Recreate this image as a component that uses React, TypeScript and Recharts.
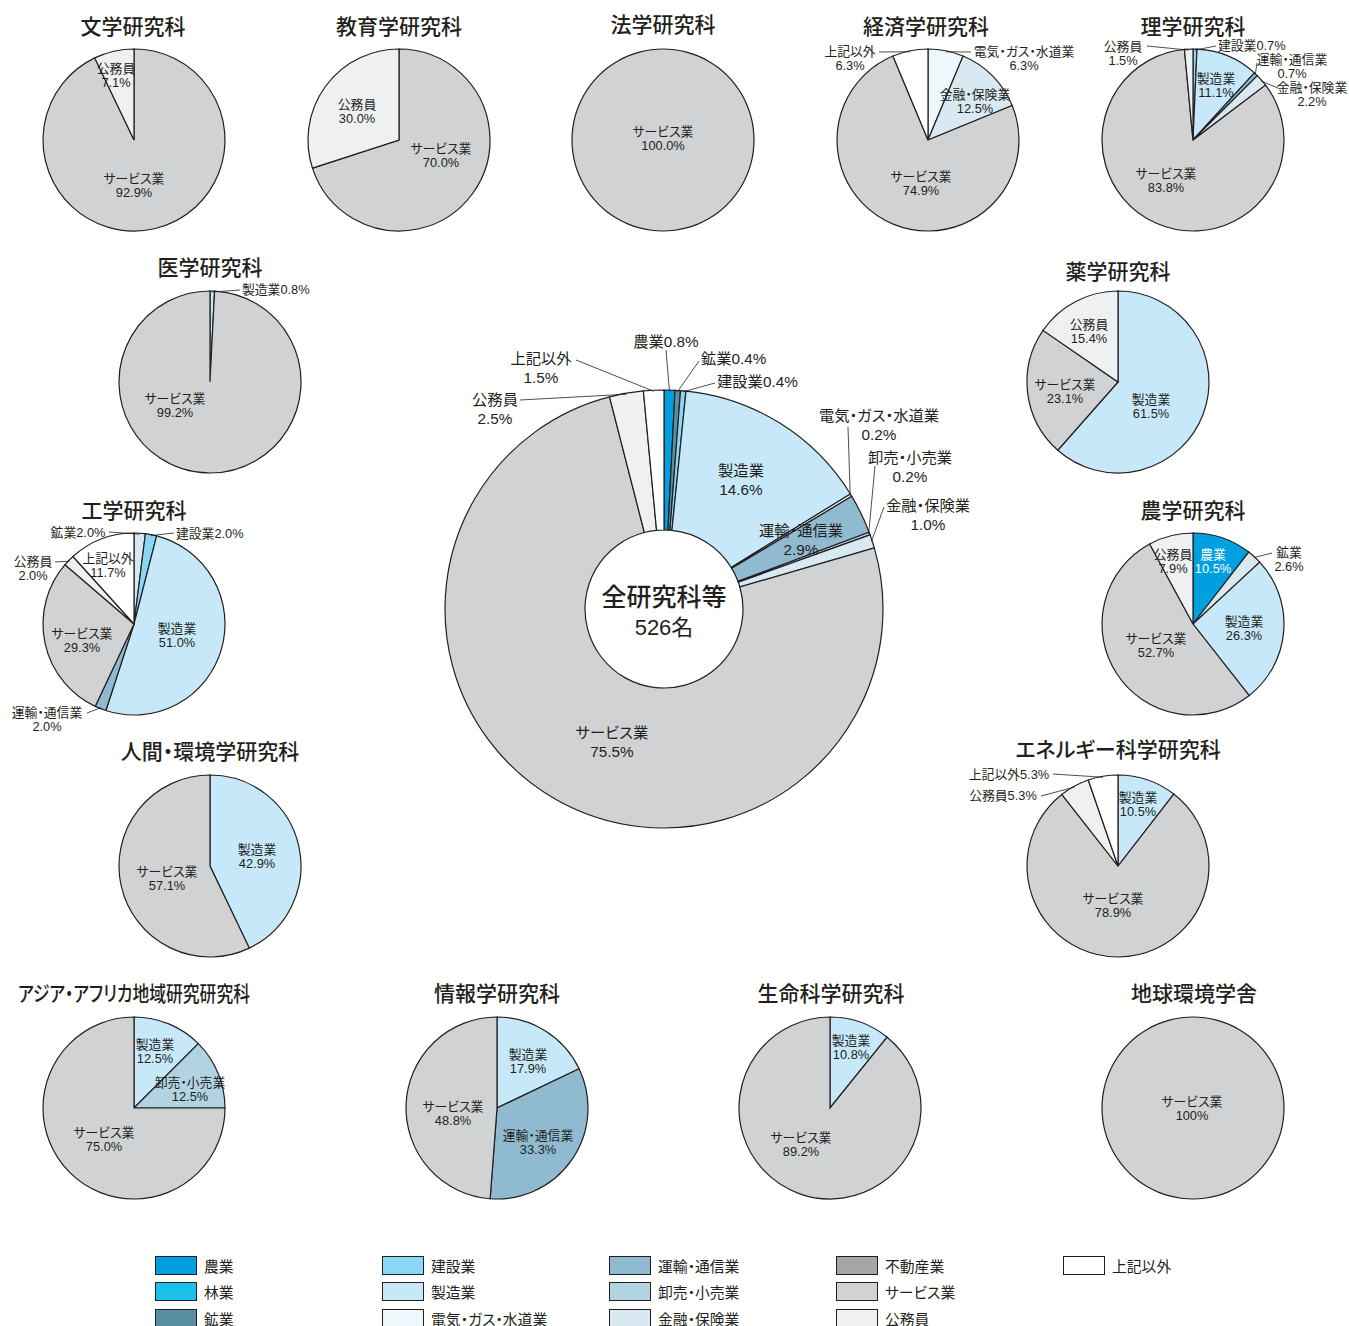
import { PieChart, Pie, Cell } from "recharts";

const categories = [
  "農業", "林業", "鉱業", "建設業", "製造業", "電気・ガス・水道業", "運輸・通信業",
  "卸売・小売業", "金融・保険業", "不動産業", "サービス業", "公務員", "上記以外",
];
const colors = [
  "#00a0e0", "#1cc0ec", "#5a8fa3", "#8ad6f4", "#c6e8f8", "#eef7fc", "#8fbad0",
  "#b2d3e2", "#d9e9f1", "#a6a6a8", "#d1d2d4", "#eff0f2", "#ffffff",
];

// values in category order: 農 林 鉱 建 製 電 運 卸 金 不 サ 公 外
const total = [0.8, 0, 0.4, 0.4, 14.6, 0.2, 2.9, 0.2, 1.0, 0, 75.5, 2.5, 1.5];
const bungaku = [0, 0, 0, 0, 0, 0, 0, 0, 0, 0, 92.9, 7.1, 0];
const kyoiku = [0, 0, 0, 0, 0, 0, 0, 0, 0, 0, 70.0, 30.0, 0];
const hogaku = [0, 0, 0, 0, 0, 0, 0, 0, 0, 0, 100, 0, 0];
const keizai = [0, 0, 0, 0, 0, 6.3, 0, 0, 12.5, 0, 74.9, 0, 6.3];
const rigaku = [0, 0, 0, 0.7, 11.1, 0, 0.7, 0, 2.2, 0, 83.8, 1.5, 0];
const igaku = [0, 0, 0, 0, 0.8, 0, 0, 0, 0, 0, 99.2, 0, 0];
const yakugaku = [0, 0, 0, 0, 61.5, 0, 0, 0, 0, 0, 23.1, 15.4, 0];
const kogaku = [0, 0, 2.0, 2.0, 51.0, 0, 2.0, 0, 0, 0, 29.3, 2.0, 11.7];
const nogaku = [10.5, 0, 2.6, 0, 26.3, 0, 0, 0, 0, 0, 52.7, 7.9, 0];
const ningen = [0, 0, 0, 0, 42.9, 0, 0, 0, 0, 0, 57.1, 0, 0];
const energy = [0, 0, 0, 0, 10.5, 0, 0, 0, 0, 0, 78.9, 5.3, 5.3];
const asia = [0, 0, 0, 0, 12.5, 0, 0, 12.5, 0, 0, 75.0, 0, 0];
const joho = [0, 0, 0, 0, 17.9, 0, 33.3, 0, 0, 0, 48.8, 0, 0];
const seimei = [0, 0, 0, 0, 10.8, 0, 0, 0, 0, 0, 89.2, 0, 0];
const chikyu = [0, 0, 0, 0, 0, 0, 0, 0, 0, 0, 100, 0, 0];

type LabelSpec = {
  dx: number; dy: number; one?: boolean; anchor?: "start" | "middle" | "end";
  lx?: number; ly?: number; white?: boolean; pct?: string;
};

const RAD = Math.PI / 180;
const INK = "#231f20";
const LATIN = '"Liberation Sans", "Noto Sans CJK JP", sans-serif';
const CJK = '"Noto Sans CJK JP", sans-serif';
const PALT = '"palt"';

const lightMining = "#d9e9f1";

const panels: {
  title: string; values: number[]; cx: number; cy: number; tx: number; ty: number;
  labels: Record<string, LabelSpec>; override?: Record<string, string>; squeeze?: number;
}[] = [
  { title: "文学研究科", values: bungaku, cx: 134, cy: 140, tx: 133, ty: 27,
    labels: { サービス業: { dx: 0, dy: 45 }, 公務員: { dx: -18, dy: -65 } } },
  { title: "教育学研究科", values: kyoiku, cx: 399, cy: 140, tx: 399, ty: 27,
    labels: { サービス業: { dx: 42, dy: 15 }, 公務員: { dx: -42, dy: -29 } } },
  { title: "法学研究科", values: hogaku, cx: 663, cy: 140, tx: 663, ty: 25,
    labels: { サービス業: { dx: 0, dy: -2 } } },
  { title: "経済学研究科", values: keizai, cx: 928, cy: 140, tx: 926, ty: 27,
    labels: {
      "電気・ガス・水道業": { dx: 96, dy: -82, lx: 43, ly: -88 },
      "金融・保険業": { dx: 47, dy: -39 },
      サービス業: { dx: -7, dy: 43 },
      上記以外: { dx: -78, dy: -82, lx: -49, ly: -88 },
    } },
  { title: "理学研究科", values: rigaku, cx: 1193, cy: 140, tx: 1193, ty: 27,
    labels: {
      建設業: { dx: 25, dy: -95, one: true, anchor: "start", lx: 23, ly: -94 },
      製造業: { dx: 23, dy: -55 },
      "運輸・通信業": { dx: 99, dy: -74, lx: 64, ly: -77 },
      "金融・保険業": { dx: 119, dy: -46, lx: 85, ly: -52 },
      サービス業: { dx: -27, dy: 40 },
      公務員: { dx: -70, dy: -87, lx: -46, ly: -94 },
    } },
  { title: "医学研究科", values: igaku, cx: 210, cy: 382, tx: 210, ty: 268,
    labels: {
      製造業: { dx: 32, dy: -93, one: true, anchor: "start", lx: 30, ly: -92 },
      サービス業: { dx: -35, dy: 23 },
    } },
  { title: "薬学研究科", values: yakugaku, cx: 1118, cy: 382, tx: 1118, ty: 272,
    labels: { 製造業: { dx: 33, dy: 24 }, サービス業: { dx: -53, dy: 9 }, 公務員: { dx: -29, dy: -51 } } },
  { title: "工学研究科", values: kogaku, cx: 134, cy: 624, tx: 134, ty: 511,
    override: { 鉱業: lightMining },
    labels: {
      鉱業: { dx: -56, dy: -92, one: true, lx: -25, ly: -92 },
      建設業: { dx: 42, dy: -91, one: true, anchor: "start", lx: 40, ly: -91 },
      製造業: { dx: 43, dy: 11 },
      "運輸・通信業": { dx: -87, dy: 95, lx: -47, ly: 89 },
      サービス業: { dx: -52, dy: 16 },
      公務員: { dx: -101, dy: -56, lx: -79, ly: -62 },
      上記以外: { dx: -26, dy: -59 },
    } },
  { title: "農学研究科", values: nogaku, cx: 1193, cy: 624, tx: 1193, ty: 511,
    override: { 鉱業: lightMining },
    labels: {
      農業: { dx: 20, dy: -63, white: true },
      鉱業: { dx: 96, dy: -65, lx: 79, ly: -71 },
      製造業: { dx: 51, dy: 4 },
      サービス業: { dx: -37, dy: 21 },
      公務員: { dx: -20, dy: -63 },
    } },
  { title: "人間・環境学研究科", values: ningen, cx: 210, cy: 866, tx: 210, ty: 752,
    labels: { 製造業: { dx: 47, dy: -10 }, サービス業: { dx: -43, dy: 12 } } },
  { title: "エネルギー科学研究科", values: energy, cx: 1118, cy: 866, tx: 1118, ty: 750,
    labels: {
      製造業: { dx: 20, dy: -62 },
      サービス業: { dx: -5, dy: 39 },
      公務員: { dx: -115, dy: -71, one: true, lx: -77, ly: -70 },
      上記以外: { dx: -109, dy: -92, one: true, lx: -65, ly: -92 },
    } },
  { title: "アジア・アフリカ地域研究研究科", values: asia, cx: 134, cy: 1108, tx: 134, ty: 994, squeeze: 0.8,
    labels: { 製造業: { dx: 21, dy: -57 }, "卸売・小売業": { dx: 56, dy: -19 }, サービス業: { dx: -30, dy: 31 } } },
  { title: "情報学研究科", values: joho, cx: 497, cy: 1108, tx: 497, ty: 994,
    labels: { 製造業: { dx: 31, dy: -47 }, "運輸・通信業": { dx: 41, dy: 34 }, サービス業: { dx: -44, dy: 5 } } },
  { title: "生命科学研究科", values: seimei, cx: 830, cy: 1108, tx: 831, ty: 994,
    labels: { 製造業: { dx: 21, dy: -61 }, サービス業: { dx: -29, dy: 36 } } },
  { title: "地球環境学舎", values: chikyu, cx: 1193, cy: 1108, tx: 1194, ty: 994,
    labels: { サービス業: { dx: -1, dy: 0, pct: "100%" } } },
];

const totalLabels: Record<string, LabelSpec> = {
  農業: { dx: 2, dy: -268, one: true, lx: 2, ly: -259 },
  鉱業: { dx: 37, dy: -251, one: true, anchor: "start", lx: 35, ly: -248 },
  建設業: { dx: 53, dy: -228, one: true, anchor: "start", lx: 51, ly: -226 },
  製造業: { dx: 77, dy: -129 },
  "電気・ガス・水道業": { dx: 215, dy: -184, lx: 184, ly: -182 },
  "運輸・通信業": { dx: 137, dy: -69 },
  "卸売・小売業": { dx: 246, dy: -142, lx: 211, ly: -143 },
  "金融・保険業": { dx: 264, dy: -94, lx: 220, ly: -102 },
  サービス業: { dx: -52, dy: 133 },
  公務員: { dx: -169, dy: -200, lx: -144, ly: -209 },
  上記以外: { dx: -123, dy: -241, lx: -88, ly: -249 },
};

function toData(values: number[]) {
  return categories
    .map((name, i) => ({ name, value: values[i], color: colors[i] }))
    .filter((d) => d.value > 0);
}

function labelFor(specs: Record<string, LabelSpec>, cx: number, cy: number, fs: number, lh: number) {
  return (p: any) => {
    const name = p.payload?.name ?? p.name;
    const s = specs[name];
    if (!s) return null;
    const pct = s.pct ?? `${Number(p.value).toFixed(1)}%`;
    const lines = s.one ? [name + pct] : [name, pct];
    const x = cx + s.dx;
    const y0 = cy + s.dy - ((lines.length - 1) * lh) / 2;
    const fill = s.white ? "#ffffff" : INK;
    let leader = null;
    if (s.lx !== undefined && s.ly !== undefined) {
      const R = p.outerRadius - 1;
      const ax = cx + R * Math.cos(-p.midAngle * RAD);
      const ay = cy + R * Math.sin(-p.midAngle * RAD);
      leader = <line x1={cx + s.lx} y1={cy + s.ly} x2={ax} y2={ay} stroke={INK} strokeWidth={0.8} />;
    }
    return (
      <g key={`lb-${name}`}>
        {leader}
        {lines.map((t, i) => (
          <text key={i} x={x} y={y0 + i * lh} textAnchor={s.anchor ?? "middle"} dominantBaseline="central"
            fill={fill} stroke="none" style={{ fontFamily: LATIN, fontSize: fs, fontFeatureSettings: PALT }}>
            {t}
          </text>
        ))}
      </g>
    );
  };
}

export default function App() {
  const totalData = toData(total);
  return (
    <div style={{ position: "absolute", left: 0, top: 0, width: 1349, height: 1326, background: "#fff" }}>
      <PieChart width={1349} height={1326} margin={{ top: 0, right: 0, bottom: 0, left: 0 }}>
        {panels.map((pn) => {
          const data = toData(pn.values);
          const whole = data.length === 1;
          return (
            <Pie key={pn.title} data={data} dataKey="value" nameKey="name" cx={pn.cx} cy={pn.cy}
              outerRadius={91} startAngle={90} endAngle={-270} stroke={whole ? "none" : INK} strokeWidth={1.2}
              isAnimationActive={false} labelLine={false}
              label={labelFor(pn.labels, pn.cx, pn.cy, 12.8, 14)}>
              {data.map((d) => (
                <Cell key={d.name} fill={pn.override?.[d.name] ?? d.color} />
              ))}
            </Pie>
          );
        })}
        {panels.filter((pn) => toData(pn.values).length === 1).map((pn) => (
          <Pie key={`ring-${pn.title}`} data={toData(pn.values)} dataKey="value" nameKey="name"
            cx={pn.cx} cy={pn.cy} innerRadius={90.4} outerRadius={91.6} startAngle={90} endAngle={-270}
            fill={INK} stroke="none" isAnimationActive={false} />
        ))}
        <Pie data={totalData} dataKey="value" nameKey="name" cx={664} cy={609}
          innerRadius={79} outerRadius={219} startAngle={90} endAngle={-270} stroke={INK} strokeWidth={1.2}
          isAnimationActive={false} labelLine={false}
          label={labelFor(totalLabels, 664, 609, 15.3, 19.5)}>
          {totalData.map((d) => (
            <Cell key={d.name} fill={d.color} />
          ))}
        </Pie>
      </PieChart>

      {panels.map((pn) => (
        <div key={pn.title} style={{
          position: "absolute", left: pn.tx, top: pn.ty - 2, whiteSpace: "nowrap",
          transform: `translate(-50%, -50%) scaleX(${pn.squeeze ?? 1})`,
          fontFamily: CJK, fontSize: 21, fontWeight: 500, color: INK, lineHeight: 1,
          fontFeatureSettings: PALT,
        }}>
          {pn.title}
        </div>
      ))}

      <div style={{ position: "absolute", left: 664, top: 595, transform: "translate(-50%, -50%)",
        fontFamily: CJK, fontSize: 25, fontWeight: 500, color: INK, whiteSpace: "nowrap", lineHeight: 1 }}>
        全研究科等
      </div>
      <div style={{ position: "absolute", left: 664, top: 628, transform: "translate(-50%, -50%)",
        fontFamily: LATIN, fontSize: 22, color: INK, whiteSpace: "nowrap", lineHeight: 1 }}>
        526名
      </div>

      {categories.map((c, i) => {
        const col = Math.floor(i / 3);
        const row = i % 3;
        return (
          <div key={c} style={{ position: "absolute", left: 155 + col * 227, top: 1256 + row * 26.5,
            display: "flex", alignItems: "center", height: 18 }}>
            <div style={{ width: 40, height: 17, background: colors[i], border: `1px solid ${INK}` }} />
            <span style={{ marginLeft: 7, fontFamily: CJK, fontSize: 14.8, color: INK, whiteSpace: "nowrap",
              fontFeatureSettings: PALT }}>{c}</span>
          </div>
        );
      })}
    </div>
  );
}
